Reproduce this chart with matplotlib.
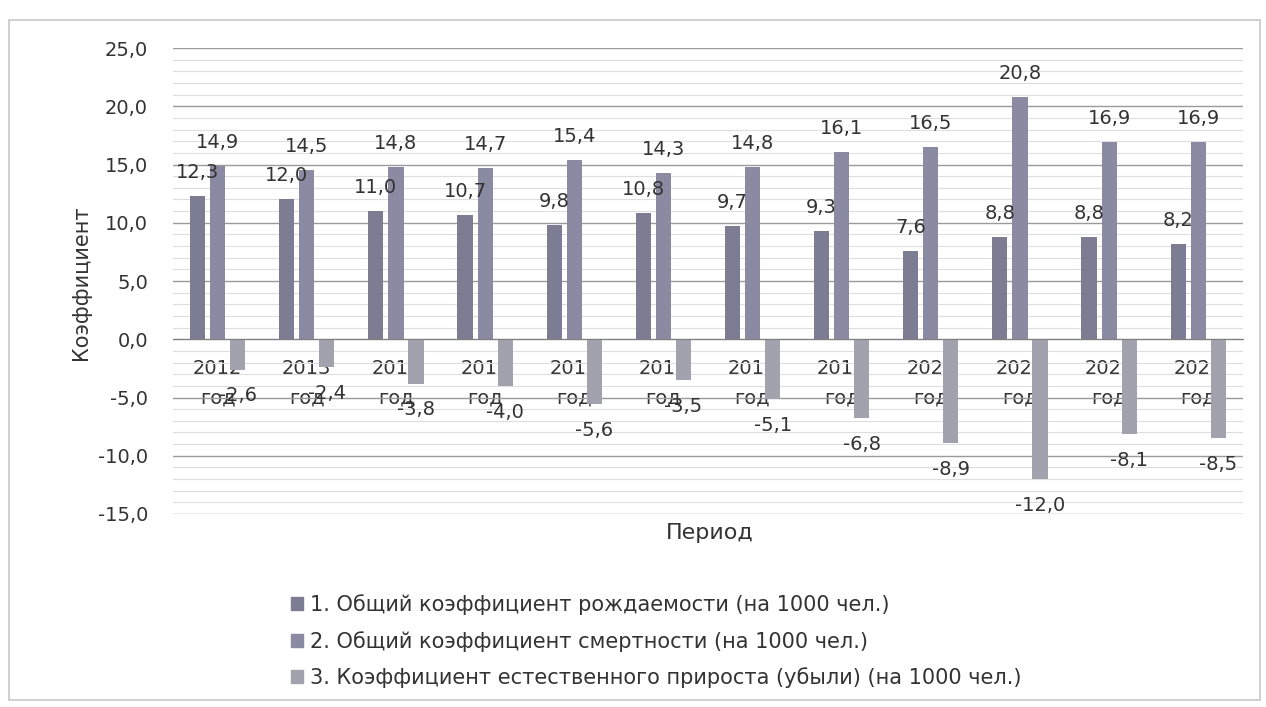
import numpy as np
import matplotlib
matplotlib.use("Agg")
import matplotlib.pyplot as plt
from matplotlib.patches import Patch, Rectangle

plt.rcParams['font.family'] = ['DejaVu Sans']

# data
years = ['2012', '2013', '2014', '2015', '2016', '2017',
         '2018', '2019', '2020', '2021', '2022', '2023']
births = [12.3, 12.0, 11.0, 10.7, 9.8, 10.8, 9.7, 9.3, 7.6, 8.8, 8.8, 8.2]
deaths = [14.9, 14.5, 14.8, 14.7, 15.4, 14.3, 14.8, 16.1, 16.5, 20.8, 16.9, 16.9]
natural = [-2.6, -2.4, -3.8, -4.0, -5.6, -3.5, -5.1, -6.8, -8.9, -12.0, -8.1, -8.5]
series_names = ['1. Общий коэффициент рождаемости (на 1000 чел.)',
                '2. Общий коэффициент смертности (на 1000 чел.)',
                '3. Коэффициент естественного прироста (убыли) (на 1000 чел.)']
colors = ['#7c7c92', '#8a8aa2', '#a2a2ae']
txt = '#333333'

def fmt(v):
    return ('%.1f' % v).replace('.', ',')

fig = plt.figure(figsize=(12.66, 7.07), dpi=100)
ax = fig.add_axes([0.1367, 0.273, 0.845, 0.659])

# outer frame like the scanned chart area
fig.patches.append(Rectangle((0.007, 0.01), 0.988, 0.962, transform=fig.transFigure,
                             fill=False, edgecolor='#c8c8c8', lw=1.2))

# x axis sits on the zero line (set before ticks, it resets them)
for s in ['top', 'right', 'left']:
    ax.spines[s].set_visible(False)
ax.spines['bottom'].set_position(('data', 0))
ax.spines['bottom'].set_color('#808080')
ax.spines['bottom'].set_zorder(3.5)

x = np.arange(len(years))
w = 0.17
off = 0.225
for k, vals in enumerate([births, deaths, natural]):
    pos = x + (k - 1) * off
    ax.bar(pos, vals, width=w, color=colors[k], zorder=3)
    for px, v in zip(pos, vals):
        dy = 17 if v >= 0 else -19
        ax.annotate(fmt(v), (px, v), xytext=(0, dy), textcoords='offset points',
                    ha='center', va='center', fontsize=14, color=txt, zorder=4)

ax.set_xlim(-0.5, len(years) - 0.5)
ax.set_ylim(-15, 25)
ax.set_yticks(np.arange(-15, 26, 5))
ax.set_yticklabels([fmt(v) for v in np.arange(-15, 26, 5)])
ax.set_yticks(np.arange(-15, 26, 1), minor=True)
ax.grid(axis='y', which='major', color='#9a9a9a', lw=1.0, zorder=0)
ax.grid(axis='y', which='minor', color='#dedede', lw=0.8, zorder=0)
ax.tick_params(axis='y', which='both', length=0, pad=18, labelsize=14, labelcolor=txt)

ax.set_xticks(x)
ax.set_xticklabels([y + '\nгод' for y in years], linespacing=1.75)
ax.tick_params(axis='x', length=0, pad=14, labelsize=14, labelcolor=txt)

fig.text(0.064, 0.60, 'Коэффициент', rotation=90, ha='center', va='center',
         fontsize=15, color=txt)
fig.text(0.561, 0.246, 'Период', ha='center', va='center', fontsize=16, color=txt)

handles = [Patch(color=c) for c in colors]
fig.legend(handles, series_names, loc='upper left', bbox_to_anchor=(0.215, 0.186),
           frameon=False, fontsize=15, handlelength=0.6, handleheight=0.6,
           handletextpad=0.3, labelspacing=0.75, labelcolor=txt)

fig.savefig('out.png', dpi=100, facecolor='white')
